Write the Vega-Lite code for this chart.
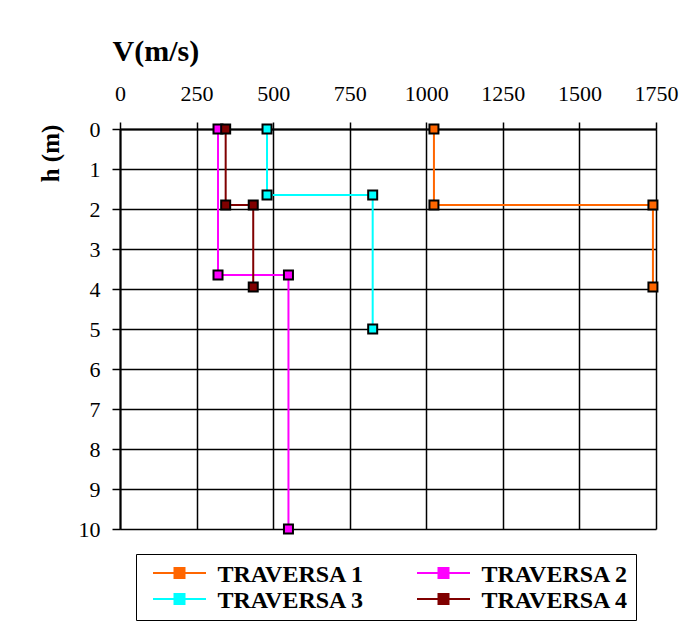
{
  "$schema": "https://vega.github.io/schema/vega-lite/v6.json",
  "width": 536,
  "height": 400,
  "autosize": "none",
  "padding": {"left": 120, "top": 129, "right": 43, "bottom": 101},
  "background": "white",
  "config": {
    "font": "Liberation Serif",
    "view": {"stroke": null},
    "axis": {
      "gridColor": "black", "gridOpacity": 1, "gridWidth": 1.5,
      "domainColor": "black", "domainWidth": 2,
      "tickColor": "black", "tickWidth": 1.5,
      "labelColor": "black", "titleColor": "black",
      "labelFont": "Liberation Serif", "titleFont": "Liberation Serif"
    }
  },
  "data": {
    "values": [
      {"serie": "TRAVERSA 1", "i": 1, "v": 1025, "h": 0},
      {"serie": "TRAVERSA 1", "i": 2, "v": 1025, "h": 1.9},
      {"serie": "TRAVERSA 1", "i": 3, "v": 1740, "h": 1.9},
      {"serie": "TRAVERSA 1", "i": 4, "v": 1740, "h": 3.95},
      {"serie": "TRAVERSA 2", "i": 1, "v": 320, "h": 0},
      {"serie": "TRAVERSA 2", "i": 2, "v": 320, "h": 3.65},
      {"serie": "TRAVERSA 2", "i": 3, "v": 550, "h": 3.65},
      {"serie": "TRAVERSA 2", "i": 4, "v": 550, "h": 10},
      {"serie": "TRAVERSA 3", "i": 1, "v": 480, "h": 0},
      {"serie": "TRAVERSA 3", "i": 2, "v": 480, "h": 1.65},
      {"serie": "TRAVERSA 3", "i": 3, "v": 825, "h": 1.65},
      {"serie": "TRAVERSA 3", "i": 4, "v": 825, "h": 5},
      {"serie": "TRAVERSA 4", "i": 1, "v": 345, "h": 0},
      {"serie": "TRAVERSA 4", "i": 2, "v": 345, "h": 1.9},
      {"serie": "TRAVERSA 4", "i": 3, "v": 435, "h": 1.9},
      {"serie": "TRAVERSA 4", "i": 4, "v": 435, "h": 3.95}
    ]
  },
  "encoding": {
    "x": {
      "field": "v", "type": "quantitative",
      "scale": {"domain": [0, 1750], "nice": false, "zero": false},
      "axis": {
        "orient": "top", "values": [0, 250, 500, 750, 1000, 1250, 1500, 1750],
        "format": "d",
        "title": "V(m/s)", "titleFontSize": 30, "titleFontWeight": "bold",
        "titleFont": "Liberation Serif",
        "titleAnchor": null, "titleAlign": "left", "titleBaseline": "alphabetic",
        "titleX": -8, "titleY": -69,
        "labelFont": "Liberation Serif",
        "labelFontSize": 22, "labelBaseline": "alphabetic", "labelPadding": 22,
        "tickSize": 7, "labelFlush": false, "labelOverlap": false
      }
    },
    "y": {
      "field": "h", "type": "quantitative",
      "scale": {"domain": [0, 10], "reverse": true, "nice": false, "zero": false},
      "axis": {
        "values": [0, 1, 2, 3, 4, 5, 6, 7, 8, 9, 10],
        "format": "d",
        "title": "h (m)", "titleFontSize": 25, "titleFontWeight": "bold",
        "titleFont": "Liberation Serif",
        "titleAngle": -90, "titleAlign": "center", "titleBaseline": "middle",
        "titleX": -70, "titleY": 24,
        "labelFont": "Liberation Serif",
        "labelFontSize": 22, "labelPadding": 12, "tickSize": 8,
        "labelFlush": false, "labelOverlap": false
      }
    },
    "color": {
      "field": "serie", "type": "nominal",
      "scale": {
        "domain": ["TRAVERSA 1", "TRAVERSA 2", "TRAVERSA 3", "TRAVERSA 4"],
        "range": ["#FF6600", "#FF00FF", "#00FFFF", "#800000"]
      },
      "legend": {
        "title": null, "orient": "none", "legendX": 16, "legendY": 425,
        "direction": "horizontal", "columns": 2, "columnPadding": 42, "rowPadding": 0,
        "padding": 7, "strokeColor": "black", "fillColor": "white",
        "labelFontSize": 24, "labelFontWeight": "bold", "labelColor": "black",
        "labelFont": "Liberation Serif", "labelLimit": 0,
        "symbolType": "M-5.3,0H5.3M-1,-1H1V1H-1Z", "symbolSize": 100,
        "symbolStrokeWidth": 2, "symbolOffset": 24.5, "labelOffset": 26,
        "encode": {
          "symbols": {
            "update": {
              "fill": {"scale": "color", "field": "value"},
              "stroke": {"scale": "color", "field": "value"},
              "opacity": {"value": 1}
            }
          },
          "labels": {
            "update": {"dy": {"value": 2}}
          }
        }
      }
    }
  },
  "layer": [
    {
      "mark": {"type": "line", "strokeWidth": 2},
      "encoding": {"order": {"field": "i", "type": "quantitative"}}
    },
    {
      "mark": {"type": "point", "shape": "square", "filled": true, "size": 81, "stroke": "black", "strokeWidth": 2, "opacity": 1}
    }
  ]
}
